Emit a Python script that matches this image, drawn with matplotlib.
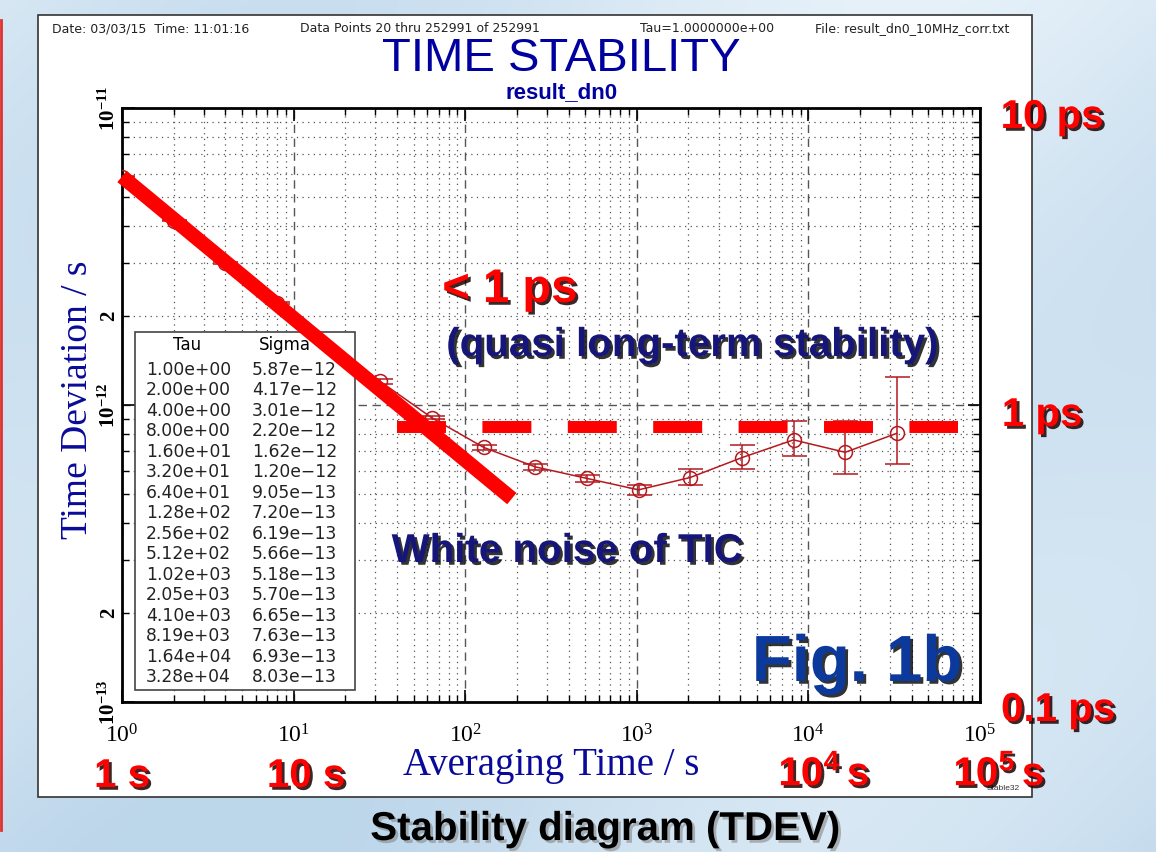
import numpy as np
import matplotlib
matplotlib.use("Agg")
import matplotlib.pyplot as plt
import matplotlib.patheffects as pe
from matplotlib.patches import Rectangle
from matplotlib.lines import Line2D

plt.rcParams['mathtext.fontset'] = 'custom'
plt.rcParams['mathtext.rm'] = 'Liberation Serif'
plt.rcParams['mathtext.bf'] = 'Liberation Serif:bold'
plt.rcParams['mathtext.sf'] = 'Liberation Sans:bold'

# TDEV results (from the Stable32 table)
tau = [1, 2, 4, 8, 16, 32, 64, 128, 256, 512, 1024, 2048, 4096, 8192, 16384, 32768]
sigma = [5.87e-12, 4.17e-12, 3.01e-12, 2.20e-12, 1.62e-12, 1.20e-12, 9.05e-13, 7.20e-13,
         6.19e-13, 5.66e-13, 5.18e-13, 5.70e-13, 6.65e-13, 7.63e-13, 6.93e-13, 8.03e-13]
err_lo = [5.85e-12, 4.15e-12, 2.99e-12, 2.18e-12, 1.60e-12, 1.18e-12, 8.95e-13, 7.08e-13,
          6.05e-13, 5.50e-13, 4.98e-13, 5.36e-13, 6.08e-13, 6.75e-13, 5.85e-13, 6.35e-13]
err_hi = [5.89e-12, 4.19e-12, 3.03e-12, 2.22e-12, 1.64e-12, 1.22e-12, 9.15e-13, 7.32e-13,
          6.33e-13, 5.82e-13, 5.38e-13, 6.08e-13, 7.33e-13, 8.86e-13, 8.86e-13, 1.24e-12]
tau_labels = ["1.00e+00", "2.00e+00", "4.00e+00", "8.00e+00", "1.60e+01", "3.20e+01",
              "6.40e+01", "1.28e+02", "2.56e+02", "5.12e+02", "1.02e+03", "2.05e+03",
              "4.10e+03", "8.19e+03", "1.64e+04", "3.28e+04"]
sigma_labels = ["5.87e\u221212", "4.17e\u221212", "3.01e\u221212", "2.20e\u221212", "1.62e\u221212",
                "1.20e\u221212", "9.05e\u221213", "7.20e\u221213", "6.19e\u221213", "5.66e\u221213",
                "5.18e\u221213", "5.70e\u221213", "6.65e\u221213", "7.63e\u221213", "6.93e\u221213",
                "8.03e\u221213"]

# hand-drawn overlays
white_noise_tau = [1, 187]
white_noise_dev = [5.88e-12, 4.84e-13]
level_tau = [40, 74000]
level_dev = [8.4e-13, 8.4e-13]

W, H = 1156, 852
fig = plt.figure(figsize=(W / 100, H / 100), dpi=100)


def fx(x):
    return x / W


def fy(y):
    return 1 - y / H


# slide background
bg = fig.add_axes([0, 0, 1, 1], zorder=-10)
yy, xx = np.mgrid[0:1:170j, 0:1:230j]
field = 0.55 + 0.25 * np.sin(6 * (xx + 0.6 * yy)) * np.cos(3 * yy) + 0.25 * yy
c1 = np.array([0.97, 0.99, 1.0])
c2 = np.array([0.74, 0.84, 0.92])
img = c1 + (c2 - c1) * np.clip(field, 0, 1)[..., None]
bg.imshow(img, aspect='auto', extent=[0, 1, 0, 1], interpolation='bicubic')
bg.set_axis_off()
fig.add_artist(Line2D([fx(1), fx(1)], [fy(20), fy(830)], color='#e03030', lw=2))

# white plot box
fig.add_artist(Rectangle((fx(38), fy(797)), fx(1032) - fx(38), fy(15) - fy(797),
                         transform=fig.transFigure, facecolor='white', edgecolor='#333333',
                         lw=1.2, zorder=-5))

ax = fig.add_axes([fx(122), fy(702), fx(980) - fx(122), fy(108) - fy(702)])
ax.set_xscale('log')
ax.set_yscale('log')
ax.set_xlim(1, 1e5)
ax.set_ylim(1e-13, 1e-11)

ax.grid(True, which='major', color='#555555', lw=1.0, linestyle=(0, (6, 4)))
ax.grid(True, which='minor', color='#555555', lw=0.9, linestyle=(0, (1, 3.5)))

xt = [1, 10, 100, 1e3, 1e4, 1e5]
ax.set_xticks(xt, [r'$\mathdefault{10^{%d}}$' % i for i in range(6)],
              fontfamily='Liberation Serif', fontsize=17)
ax.set_xticks([k * 10 ** e for e in range(5) for k in range(2, 10)], minor=True)
ax.xaxis.set_minor_formatter(matplotlib.ticker.NullFormatter())
yt = [1e-13, 1e-12, 1e-11]
ax.set_yticks(yt, [r'$\mathbf{10^{-13}}$', r'$\mathbf{10^{-12}}$', r'$\mathbf{10^{-11}}$'],
              fontsize=15, rotation=90, va='center')
ym = [k * 10.0 ** e for e in (-13, -12) for k in range(2, 10)]
ax.set_yticks(ym, ['2' if str(round(v / 10 ** np.floor(np.log10(v)))) == '2' else '' for v in ym],
              minor=True, fontfamily='Liberation Serif', fontweight='bold', fontsize=15,
              rotation=90, va='center')
ax.tick_params(which='both', direction='in', top=True, right=True, colors='black')
ax.tick_params(which='major', length=9, width=1.2)
ax.tick_params(which='minor', length=5, width=1.0)
ax.tick_params(axis='x', which='major', pad=16)
ax.tick_params(axis='y', which='both', pad=2)
for s in ax.spines.values():
    s.set_linewidth(2)

ax.errorbar(tau, sigma, yerr=[np.subtract(sigma, err_lo), np.subtract(err_hi, sigma)],
            color='#b5191e', lw=1.1, marker='o', ms=10, mfc='none', mew=1.1,
            capsize=9, elinewidth=1.1, capthick=1.1, zorder=3)

# Stable32 results table
ax.add_patch(Rectangle((fx(135), fy(690)), fx(355) - fx(135), fy(332) - fy(690),
                       transform=fig.transFigure, facecolor='white', edgecolor='#444444',
                       lw=1.2, zorder=4))
ax.text(fx(187), fy(345), "Tau", transform=fig.transFigure, ha='center', va='center',
        fontsize=12, family='DejaVu Sans', zorder=5)
ax.text(fx(285), fy(345), "Sigma", transform=fig.transFigure, ha='center', va='center',
        fontsize=12, family='DejaVu Sans', zorder=5)
for i in range(len(tau_labels)):
    y = 370 + i * 20.47
    ax.text(fx(146), fy(y), tau_labels[i], transform=fig.transFigure, ha='left', va='center',
            fontsize=12.3, family='DejaVu Sans', color='#222222', zorder=5)
    ax.text(fx(252), fy(y), sigma_labels[i], transform=fig.transFigure, ha='left', va='center',
            fontsize=12.3, family='DejaVu Sans', color='#222222', zorder=5)

# overlays
ax.plot(white_noise_tau, white_noise_dev, color='#ff0000', lw=10.5, solid_capstyle='butt',
        zorder=6, clip_on=False)
ax.plot(level_tau, level_dev, color='#ff0000', lw=8.6, linestyle=(0, (4.1, 3.05)),
        dash_capstyle='butt', zorder=6)

shadow_dark = [pe.withSimplePatchShadow(offset=(2, -2), shadow_rgbFace='#1a0000', alpha=0.85)]
shadow_navy = [pe.withSimplePatchShadow(offset=(2, -2), shadow_rgbFace='black', alpha=0.8)]

ax.text(fx(510), fy(290), "< 1 ps", transform=fig.transFigure, ha='center', va='center',
        fontsize=34, fontweight='bold', family='Liberation Sans', color='#ff0000',
        path_effects=shadow_dark, zorder=7)
ax.text(fx(692), fy(345), "(quasi long-term stability)", transform=fig.transFigure,
        ha='center', va='center', fontsize=29, fontweight='bold', family='Liberation Sans',
        color='#15157a', path_effects=shadow_navy, zorder=7)
ax.text(fx(567), fy(551), "White noise of TIC", transform=fig.transFigure,
        ha='center', va='center', fontsize=29, fontweight='bold', family='Liberation Sans',
        color='#15157a', path_effects=shadow_navy, zorder=7)
ax.text(fx(857), fy(664), "Fig. 1b", transform=fig.transFigure,
        ha='center', va='center', fontsize=47, fontweight='bold', family='Liberation Sans',
        color='#0b3a9c', path_effects=shadow_navy, zorder=7)

# header and titles
hdr = dict(fontsize=9, family='DejaVu Sans', color='#222222', va='center')
fig.text(fx(52), fy(29), "Date: 03/03/15  Time: 11:01:16", **hdr)
fig.text(fx(300), fy(29), "Data Points 20 thru 252991 of 252991", **hdr)
fig.text(fx(640), fy(29), "Tau=1.0000000e+00", **hdr)
fig.text(fx(815), fy(29), "File: result_dn0_10MHz_corr.txt", **hdr)
fig.text(fx(561), fy(59), "TIME STABILITY", ha='center', va='center', fontsize=34,
         family='Liberation Sans', color='#0000a0')
fig.text(fx(562), fy(93), "result_dn0", ha='center', va='center', fontsize=16,
         fontweight='bold', family='Liberation Sans', color='#0000a0')
fig.text(fx(78), fy(400), "Time Deviation / s", rotation=90, ha='center', va='center',
         fontsize=27, family='Liberation Serif', color='#0a0a9a')
fig.text(fx(551), fy(766), "Averaging Time / s", ha='center', va='center',
         fontsize=28, family='Liberation Serif', color='#0a0a9a')
fig.text(fx(1003), fy(789), "Stable32", ha='center', va='center', fontsize=6,
         family='Liberation Sans', color='#333333')

# red unit labels
red = dict(ha='center', va='center', fontsize=29, fontweight='bold', family='Liberation Sans',
           color='#ff0000', path_effects=shadow_dark)
fig.text(fx(1052), fy(117), "10 ps", **red)
fig.text(fx(1042), fy(415), "1 ps", **red)
fig.text(fx(1058), fy(710), "0.1 ps", **red)
fig.text(fx(122), fy(776), "1 s", **red)
fig.text(fx(306), fy(776), "10 s", **red)
fig.text(fx(824), fy(774), r'$\mathsf{10^{4}\,s}$', **red)
fig.text(fx(999), fy(774), r'$\mathsf{10^{5}\,s}$', **red)

fig.text(fx(605), fy(829), "Stability diagram (TDEV)", ha='center', va='center', fontsize=29,
         fontweight='bold', family='Liberation Sans', color='black',
         path_effects=[pe.withSimplePatchShadow(offset=(2, -2), shadow_rgbFace='#888888',
                                                alpha=0.6)])

fig.savefig("out.png", dpi=100)
